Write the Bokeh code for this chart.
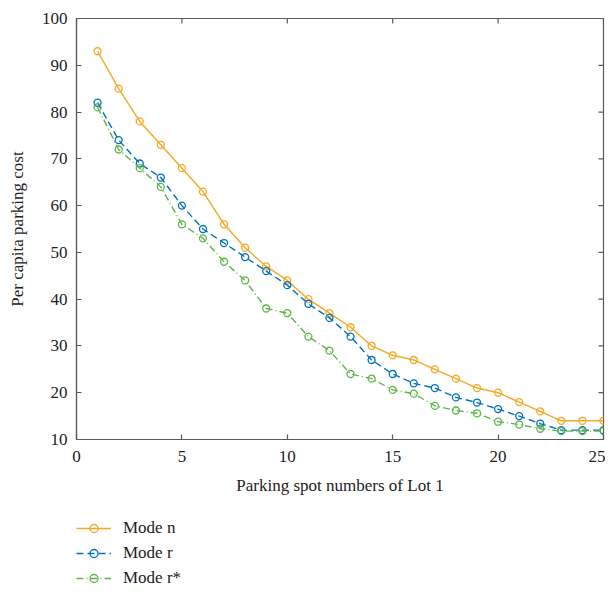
import math
from bokeh.plotting import figure
from bokeh.layouts import column
from bokeh.models import Range1d, Legend, LegendItem, FixedTicker
from bokeh.embed import file_html
from bokeh.resources import INLINE

spots = list(range(1, 26))
mode_n = [93, 85, 78, 73, 68, 63, 56, 51, 47, 44, 40, 37, 34, 30, 28, 27, 25, 23, 21, 20, 18, 16, 14, 14, 14]
mode_r = [82, 74, 69, 66, 60, 55, 52, 49, 46, 43, 39, 36, 32, 27, 24, 22, 21, 19, 17.9, 16.5, 15, 13.4, 12, 12, 12]
mode_rs = [81, 72, 68, 64, 56, 53, 48, 44, 38, 37, 32, 29, 24, 23, 20.6, 19.8, 17.2, 16.2, 15.6, 13.8, 13.2, 12.3, 11.8, 11.8, 11.8]
x_ticks = [0, 5, 10, 15, 20, 25]
y_ticks = [10, 20, 30, 40, 50, 60, 70, 80, 90, 100]
labels = ["Mode n", "Mode r", "Mode r*"]

FONT = "Liberation Serif"
AX = "#5a5a5a"
C_N, C_R, C_RS = "#F7A823", "#0072BD", "#5DB748"
X0, X1, Y0, Y1 = 0, 25, 10, 100
STYLES = [dict(line_color=C_N), dict(line_color=C_R, line_dash="7 4"), dict(line_color=C_RS, line_dash="7 3 1 3")]
SERIES = [mode_n, mode_r, mode_rs]

BL, BT, BR, BB = 76, 18, 2, 60
FW, FH = 527, 421

p = figure(frame_width=FW, frame_height=FH, output_backend="svg", toolbar_location=None,
           x_range=Range1d(X0, X1), y_range=Range1d(Y0, Y1),
           min_border_left=BL, min_border_top=BT, min_border_right=BR, min_border_bottom=BB)
p.grid.visible = False
p.outline_line_color = AX
p.outline_line_width = 1.2
p.background_fill_color = "white"
p.border_fill_color = "white"

p.xaxis.ticker = FixedTicker(ticks=x_ticks)
p.yaxis.ticker = FixedTicker(ticks=y_ticks)
for a in p.xaxis + p.yaxis:
    a.axis_line_color = AX
    a.axis_line_width = 1.2
    a.major_tick_line_color = AX
    a.major_tick_line_width = 1.2
    a.major_tick_in = 5
    a.major_tick_out = 0
    a.minor_tick_line_color = None
    a.major_label_text_font = FONT
    a.major_label_text_font_size = "17px"
    a.major_label_text_color = "#222222"
    a.axis_label_text_font = FONT
    a.axis_label_text_font_size = "17px"
    a.axis_label_text_font_style = "normal"
    a.axis_label_text_color = "#222222"
p.xaxis.major_label_standoff = 11
p.yaxis.major_label_standoff = 9
p.xaxis.axis_label = "Parking spot numbers of Lot 1"
p.yaxis.axis_label = "Per capita parking cost"
p.xaxis.axis_label_standoff = 11
p.yaxis.axis_label_standoff = 12

# inward ticks on the top and right edges of the box
p.ray(x=x_ticks, y=[Y1] * len(x_ticks), length=5, length_units="screen",
      angle=-math.pi / 2, line_color=AX, line_width=1.2)
p.ray(x=[X1] * len(y_ticks), y=y_ticks, length=5, length_units="screen",
      angle=math.pi, line_color=AX, line_width=1.2)

for ys, st in zip(SERIES, STYLES):
    p.line(spots, ys, line_width=1.4, **st)
    p.scatter(spots, ys, marker="circle", size=7, fill_color=None, line_color=st["line_color"], line_width=1.3)

# legend panel below the axes (its glyphs lie outside its own view)
q = figure(width=BL + FW + BR, height=89, output_backend="svg", toolbar_location=None,
           x_range=Range1d(-200, -100), y_range=Range1d(-200, -100),
           min_border_left=0, min_border_right=0, min_border_top=0, min_border_bottom=0)
q.axis.visible = False
q.grid.visible = False
q.outline_line_color = None
items = []
for ys, st, lab in zip(SERIES, STYLES, labels):
    r1 = q.line(spots, ys, line_width=1.4, **st)
    r2 = q.scatter(spots, ys, marker="circle", size=7, fill_color=None, line_color=st["line_color"], line_width=1.3)
    items.append(LegendItem(label=lab, renderers=[r1, r2]))
legend = Legend(items=items, location=(0, 0), margin=0, padding=0, spacing=5,
                glyph_width=35, glyph_height=20, label_height=20, label_standoff=12,
                label_text_font=FONT, label_text_font_size="17px", label_text_color="#222222",
                border_line_color=None, background_fill_alpha=0)
q.add_layout(legend, "center")

open("out.html", "w").write(file_html(column(p, q, spacing=0), INLINE))
